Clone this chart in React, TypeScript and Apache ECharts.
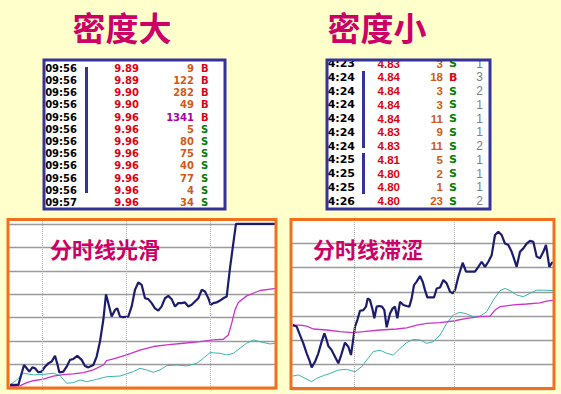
import React, { useEffect, useRef } from 'react';
import * as echarts from 'echarts';

// ---- Table data ----
const leftTimes = ['09:56', '09:56', '09:56', '09:56', '09:56', '09:56', '09:56', '09:56', '09:56', '09:56', '09:56', '09:57'];
const leftPrices = ['9.89', '9.89', '9.90', '9.90', '9.96', '9.96', '9.96', '9.96', '9.96', '9.96', '9.96', '9.96'];
const leftVols = [9, 122, 282, 49, 1341, 5, 80, 75, 40, 77, 4, 34];
const leftSides = ['B', 'B', 'B', 'B', 'B', 'S', 'S', 'S', 'S', 'S', 'S', 'S'];

const rightTimes = ['14:23', '14:24', '14:24', '14:24', '14:24', '14:24', '14:24', '14:25', '14:25', '14:25', '14:26'];
const rightPrices = ['4.83', '4.84', '4.84', '4.84', '4.84', '4.83', '4.83', '4.81', '4.80', '4.80', '4.80'];
const rightVols = [3, 18, 3, 3, 11, 9, 11, 5, 2, 1, 23];
const rightSides = ['S', 'B', 'S', 'S', 'S', 'S', 'S', 'S', 'S', 'S', 'S'];
const rightCounts = [1, 3, 2, 1, 1, 1, 2, 1, 1, 1, 2];

// ---- Line data: [time position, level] ----
const smoothPrice: [number, number][] = [
  [30, 0.13], [55, 0.13], [72, 0.98], [80, 0.84], [88, 0.7], [97, 0.88], [105, 0.84], [115, 0.67], [125, 0.7],
  [135, 0.91], [145, 1.05], [155, 1.13], [165, 1.37], [172, 1.03], [178, 0.66], [190, 0.7], [200, 0.91], [210, 1.2],
  [220, 1.24], [232, 1.37], [245, 1.2], [255, 0.94], [265, 0.88], [280, 0.98], [290, 1.34], [300, 1.98], [310, 2.91],
  [318, 4.0], [325, 3.62], [335, 3.05], [345, 3.33], [352, 3.4], [360, 3.05], [370, 3.02], [385, 3.05], [395, 3.48],
  [405, 4.19], [415, 4.5], [425, 4.4], [435, 3.83], [445, 3.79], [455, 3.62], [465, 3.4], [475, 3.3], [485, 3.48],
  [495, 3.83], [505, 3.93], [515, 3.79], [525, 3.48], [535, 3.62], [545, 3.62], [555, 3.65], [565, 3.48], [575, 3.55],
  [585, 3.69], [595, 3.83], [605, 4.19], [615, 4.12], [625, 3.83], [632, 3.55], [640, 3.62], [650, 3.65], [660, 3.73],
  [670, 3.83], [680, 3.9], [690, 5.11], [700, 6.18], [708, 7.0], [828, 7.0],
];
const smoothAvg: [number, number][] = [
  [30, 0.06], [60, 0.09], [80, 0.23], [100, 0.31], [130, 0.38], [160, 0.51], [190, 0.57], [220, 0.6], [250, 0.66],
  [280, 0.77], [310, 0.98], [320, 1.17], [340, 1.24], [380, 1.41], [420, 1.62], [460, 1.77], [500, 1.84], [550, 1.91],
  [600, 1.98], [640, 2.05], [670, 2.08], [685, 2.26], [695, 2.76], [705, 3.33], [715, 3.65], [740, 3.93], [780, 4.16],
  [828, 4.25],
];
const smoothIndex: [number, number][] = [
  [30, 0.13], [50, 0.34], [70, 0.63], [100, 0.56], [130, 0.58], [160, 0.63], [180, 0.53], [200, 0.2], [220, 0.23],
  [240, 0.34], [260, 0.27], [290, 0.37], [320, 0.48], [360, 0.51], [400, 0.7], [420, 0.84], [440, 0.77], [460, 0.67],
  [480, 0.77], [500, 0.95], [530, 0.98], [560, 0.94], [590, 1.05], [610, 1.27], [630, 1.51], [660, 1.48], [680, 1.41],
  [700, 1.48], [720, 1.7], [740, 1.91], [760, 2.05], [790, 1.94], [810, 1.88], [828, 1.91],
];

const roughPrice: [number, number][] = [
  [38, 2.63], [50, 2.57], [60, 2.22], [70, 1.88], [80, 1.47], [88, 1.19], [95, 0.89], [105, 1.12], [115, 1.47],
  [125, 1.95], [133, 2.29], [140, 2.02], [145, 1.77], [155, 1.6], [165, 1.33], [175, 1.06], [182, 1.33], [188, 1.6],
  [195, 1.91], [205, 1.74], [213, 1.4], [218, 1.88], [225, 2.57], [232, 2.84], [240, 3.22], [250, 3.25], [258, 3.39],
  [263, 3.73], [270, 3.66], [278, 3.25], [283, 2.91], [290, 3.39], [298, 3.42], [306, 3.39], [313, 3.25], [320, 2.54],
  [330, 3.11], [338, 3.32], [345, 3.39], [352, 2.91], [360, 3.59], [370, 3.46], [380, 3.42], [388, 3.39], [395, 3.73],
  [402, 4.28], [410, 4.42], [420, 4.65], [428, 4.42], [435, 4.07], [442, 3.77], [452, 3.77], [462, 3.77], [470, 4.14],
  [480, 4.18], [490, 4.49], [500, 4.35], [510, 4.01], [518, 3.94], [525, 4.07], [535, 4.62], [548, 5.2], [558, 4.83],
  [570, 4.83], [585, 4.83], [595, 5.03], [605, 5.24], [615, 5.03], [625, 5.24], [635, 5.51], [645, 6.34], [655, 6.47],
  [665, 6.34], [675, 5.99], [685, 5.93], [695, 5.65], [700, 5.45], [710, 5.03], [720, 5.65], [730, 5.79], [740, 5.99],
  [750, 6.1], [760, 6.06], [770, 5.45], [780, 5.38], [790, 5.65], [798, 5.93], [808, 5.03], [816, 5.2], [822, 5.22],
];
const roughAvg: [number, number][] = [
  [38, 2.63], [60, 2.63], [80, 2.59], [100, 2.47], [140, 2.43], [180, 2.36], [220, 2.32], [250, 2.36], [300, 2.43],
  [350, 2.47], [380, 2.52], [410, 2.63], [440, 2.7], [480, 2.73], [520, 2.8], [560, 2.91], [600, 2.98], [630, 3.0],
  [645, 3.25], [660, 3.39], [700, 3.46], [740, 3.5], [780, 3.55], [800, 3.62], [822, 3.66],
];
const roughIndex: [number, number][] = [
  [38, 0.53], [55, 0.58], [75, 0.44], [95, 0.3], [110, 0.44], [130, 0.55], [150, 0.64], [175, 0.78], [200, 0.81],
  [225, 0.71], [245, 0.92], [260, 1.19], [280, 1.54], [300, 1.6], [320, 1.47], [340, 1.4], [360, 1.67], [380, 1.91],
  [400, 2.04], [420, 2.02], [440, 1.88], [460, 1.95], [480, 2.22], [500, 2.7], [520, 3.05], [540, 3.16], [560, 3.09],
  [580, 2.98], [600, 3.0], [620, 3.18], [640, 3.66], [660, 4.05], [675, 4.14], [690, 4.05], [710, 3.87], [730, 3.8],
  [750, 3.94], [770, 4.07], [790, 4.07], [822, 4.05],
];

const leftDividers = [127, 380, 632];
const rightDividers = [222, 522];

const titleLeft = '密度大';
const titleRight = '密度小';
const subLeft = '分时线光滑';
const subRight = '分时线滞涩';

// ---- Styles ----
const BG = '#FFFFCC';
const TITLE = '#CC0066';
const BORDER_BLUE = '#333399';
const ORANGE = '#F0701E';
const NAVY = '#1C1C6E';
const MAGENTA = '#CC33CC';
const TEAL = '#3BB3B0';
const RED = '#E00010';
const VOL = '#D05A18';
const PURPLE = '#AA00AA';
const GREEN = '#008000';
const GRAY = '#808080';
const TIME_FONT_L = 'bold 10px "DejaVu Sans"';
const FONT_L = 'bold 10px "DejaVu Sans"';
const TIME_FONT_R = 'bold 11px "DejaVu Sans"';
const FONT_R = 'bold 11.5px "Liberation Sans"';
const COUNT_FONT_R = '12px "Liberation Sans"';
const SIDE_FONT_R = 'bold 11px "DejaVu Sans"';

function txt(x: number, y: number, text: string, fill: string, font: string, align: string, z = 11) {
  return {
    type: 'text',
    x,
    y,
    z,
    silent: true,
    style: { text, fill, font, textAlign: align, textVerticalAlign: 'middle' },
  };
}

function buildGraphics() {
  const g: any[] = [];
  // titles
  g.push(txt(122, 27, titleLeft, TITLE, 'bold 33px "Noto Sans CJK SC"', 'center'));
  g.push(txt(377, 27, titleRight, TITLE, 'bold 33px "Noto Sans CJK SC"', 'center'));

  // left table
  g.push({ type: 'rect', z: 10, silent: true, shape: { x: 44, y: 60, width: 181, height: 149 }, style: { fill: '#fff' } });
  leftTimes.forEach((t, i) => {
    const y = 68.3 + i * 12.2;
    g.push(txt(77, y, t, '#000', TIME_FONT_L, 'right'));
    g.push(txt(139, y, leftPrices[i], RED, FONT_L, 'right'));
    g.push(txt(194, y, String(leftVols[i]), leftVols[i] > 1000 ? PURPLE : VOL, FONT_L, 'right'));
    g.push(txt(201, y, leftSides[i], leftSides[i] === 'B' ? RED : GREEN, FONT_L, 'left'));
  });
  g.push({ type: 'rect', z: 12, silent: true, shape: { x: 85, y: 67, width: 3, height: 126 }, style: { fill: BORDER_BLUE } });
  g.push({ type: 'rect', z: 13, silent: true, shape: { x: 44, y: 60, width: 181, height: 149 }, style: { fill: 'none', stroke: BORDER_BLUE, lineWidth: 3 } });

  // right table
  g.push({ type: 'rect', z: 10, silent: true, shape: { x: 327, y: 60, width: 163, height: 149 }, style: { fill: '#fff' } });
  rightTimes.forEach((t, i) => {
    const y = 63.5 + i * 13.75;
    g.push(txt(355, y, t, '#000', TIME_FONT_R, 'right'));
    g.push(txt(400, y, rightPrices[i], RED, FONT_R, 'right'));
    g.push(txt(443, y, String(rightVols[i]), VOL, FONT_R, 'right'));
    g.push(txt(449, y, rightSides[i], rightSides[i] === 'B' ? RED : GREEN, SIDE_FONT_R, 'left'));
    g.push(txt(483, y, String(rightCounts[i]), GRAY, COUNT_FONT_R, 'right'));
  });
  g.push({ type: 'rect', z: 12, silent: true, shape: { x: 362, y: 71, width: 3, height: 77 }, style: { fill: BORDER_BLUE } });
  g.push({ type: 'rect', z: 12, silent: true, shape: { x: 362, y: 153, width: 3, height: 41 }, style: { fill: BORDER_BLUE } });
  // covers outside the right table (clip overflowing text)
  g.push({ type: 'rect', z: 12, silent: true, shape: { x: 310, y: 45, width: 190, height: 15 }, style: { fill: BG } });
  g.push({ type: 'rect', z: 12, silent: true, shape: { x: 310, y: 45, width: 17, height: 170 }, style: { fill: BG } });
  g.push({ type: 'rect', z: 13, silent: true, shape: { x: 327, y: 60, width: 163, height: 149 }, style: { fill: 'none', stroke: BORDER_BLUE, lineWidth: 3 } });

  // chart frames
  g.push({ type: 'rect', z: 100, silent: true, shape: { x: 8, y: 219.5, width: 268, height: 168.5 }, style: { fill: 'none', stroke: ORANGE, lineWidth: 3 } });
  g.push({ type: 'rect', z: 100, silent: true, shape: { x: 291, y: 219.5, width: 263, height: 169 }, style: { fill: 'none', stroke: ORANGE, lineWidth: 3 } });

  // chart captions
  g.push(txt(50, 248, subLeft, TITLE, 'bold 22px "Noto Sans CJK SC"', 'left', 50));
  g.push(txt(313, 248, subRight, TITLE, 'bold 22px "Noto Sans CJK SC"', 'left', 50));
  return g;
}

function lineSeries(data: [number, number][], idx: number, color: string, width: number, dividers?: number[]) {
  const s: any = {
    type: 'line',
    xAxisIndex: idx,
    yAxisIndex: idx,
    data,
    showSymbol: false,
    symbol: 'none',
    smooth: false,
    lineStyle: { color, width },
    silent: true,
  };
  if (dividers) {
    s.markLine = {
      silent: true,
      symbol: ['none', 'none'],
      label: { show: false },
      lineStyle: { color: '#B0B0B0', type: 'dotted', width: 1 },
      data: dividers.map((d) => ({ xAxis: d })),
    };
  }
  return s;
}

const hiddenAxis = {
  axisLine: { show: false },
  axisTick: { show: false },
  axisLabel: { show: false },
};

export default function App() {
  const ref = useRef<HTMLDivElement>(null);
  useEffect(() => {
    if (!ref.current) return;
    const chart = echarts.init(ref.current, null, { renderer: 'svg' });
    chart.setOption({
      animation: false,
      backgroundColor: BG,
      grid: [
        { left: 8, top: 219, width: 268, height: 169, show: true, backgroundColor: '#fff', borderWidth: 0 },
        { left: 291, top: 219, width: 263, height: 170, show: true, backgroundColor: '#fff', borderWidth: 0 },
      ],
      xAxis: [
        { type: 'value', gridIndex: 0, min: 24, max: 828, splitLine: { show: false }, ...hiddenAxis },
        { type: 'value', gridIndex: 1, min: 33, max: 822, splitLine: { show: false }, ...hiddenAxis },
      ],
      yAxis: [
        { type: 'value', gridIndex: 0, min: 0, max: 7.21, interval: 1, splitLine: { lineStyle: { color: '#9A9A9A', width: 1.3 } }, ...hiddenAxis },
        { type: 'value', gridIndex: 1, min: 0, max: 7, interval: 1, splitLine: { lineStyle: { color: '#9A9A9A', width: 1.3 } }, ...hiddenAxis },
      ],
      series: [
        lineSeries(smoothIndex, 0, TEAL, 1, leftDividers),
        lineSeries(smoothAvg, 0, MAGENTA, 1.3),
        lineSeries(smoothPrice, 0, NAVY, 2.2),
        lineSeries(roughIndex, 1, TEAL, 1, rightDividers),
        lineSeries(roughAvg, 1, MAGENTA, 1.3),
        lineSeries(roughPrice, 1, NAVY, 2.2),
      ],
      graphic: buildGraphics(),
    });
    return () => chart.dispose();
  }, []);
  return <div ref={ref} style={{ position: 'fixed', left: 0, top: 0, width: 561, height: 394 }} />;
}
